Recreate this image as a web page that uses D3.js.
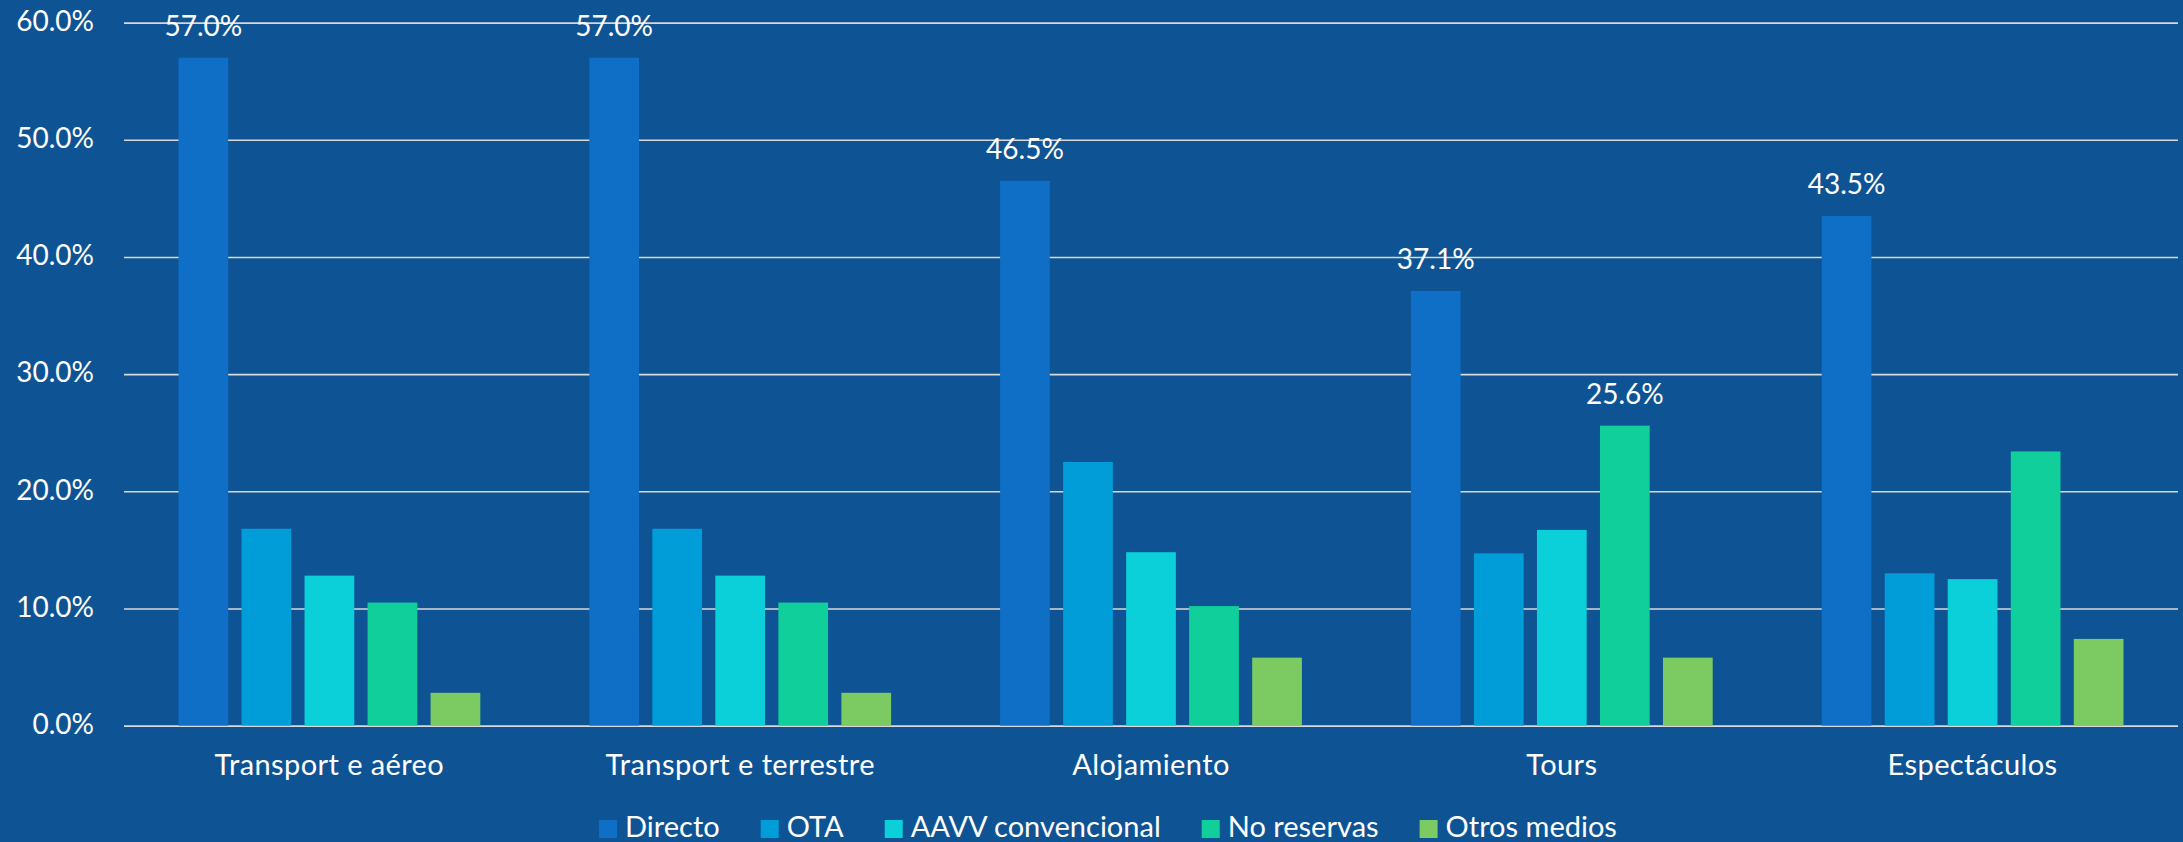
<!DOCTYPE html>
<html>
<head>
<meta charset="utf-8">
<script src="https://cdn.jsdelivr.net/npm/d3@7/dist/d3.min.js"></script>
<style>
  html, body { margin: 0; padding: 0; background: #0E5394; }
  svg { display: block; }
  text { font-family: Lato, "Open Sans", sans-serif; fill: #FFFFFF; }
</style>
</head>
<body>
<svg id="chart" width="2183" height="842"></svg>
<script>
// Booking channel share by type of tourist service (%)
const categories = ["Transporte aéreo", "Transporte terrestre", "Alojamiento", "Tours", "Espectáculos"];
const seriesNames = ["Directo", "OTA", "AAVV convencional", "No reservas", "Otros medios"];
const directo    = [57.0, 57.0, 46.5, 37.1, 43.5];
const ota        = [16.8, 16.8, 22.5, 14.7, 13.0];
const aavv       = [12.8, 12.8, 14.8, 16.7, 12.5];
const noReservas = [10.5, 10.5, 10.2, 25.6, 23.4];
const otrosMedios = [2.8, 2.8, 5.8, 5.8, 7.4];
const yTicks = [0, 10, 20, 30, 40, 50, 60];
// bars that carry a value label: [series, category]
const labelledBars = [
  ["Directo", "Transporte aéreo"], ["Directo", "Transporte terrestre"],
  ["Directo", "Alojamiento"], ["Directo", "Tours"], ["Directo", "Espectáculos"],
  ["No reservas", "Tours"]
];
const colors = ["#0F6FC6", "#009DD9", "#0BD0D9", "#10CF9B", "#7CCA62"];

const seriesValues = [directo, ota, aavv, noReservas, otrosMedios];
const rows = [];
categories.forEach((c, ci) => {
  seriesNames.forEach((s, si) => {
    rows.push({ category: c, series: s, value: seriesValues[si][ci] });
  });
});

const svg = d3.select("#chart");
const plot = { left: 124, right: 2178, top: 22.6, bottom: 725.6 };

const x0 = d3.scaleBand().domain(categories).range([plot.left, plot.right]).paddingInner(0).paddingOuter(0);
const inner = [54.5, x0.bandwidth() - 54.5];
const x1 = d3.scaleBand().domain(seriesNames).range(inner).paddingInner(0.211).paddingOuter(0);
const y = d3.scaleLinear().domain([0, 60]).range([plot.bottom, plot.top]);
const color = d3.scaleOrdinal().domain(seriesNames).range(colors);
const fmt = v => d3.format(".1f")(v) + "%";

// horizontal gridlines and value axis labels
const yAxis = d3.axisLeft(y).tickValues(yTicks).tickSize(-(plot.right - plot.left)).tickFormat(fmt);
const ga = svg.append("g").attr("transform", `translate(${plot.left},0)`).call(yAxis);
ga.select(".domain").remove();
ga.selectAll(".tick line").attr("stroke", "#D9D9D9").attr("stroke-width", 1.6);
ga.selectAll(".tick text")
  .attr("fill", "#FFFFFF")
  .style("font-size", "28px")
  .attr("dy", "0.28em")
  .attr("x", 94 - plot.left);

// bars
svg.append("g").selectAll("rect").data(rows).join("rect")
  .attr("x", d => x0(d.category) + x1(d.series))
  .attr("width", x1.bandwidth())
  .attr("y", d => y(d.value))
  .attr("height", d => y(0) - y(d.value))
  .attr("fill", d => color(d.series));

// value labels
const labelRows = rows.filter(d => labelledBars.some(([s, c]) => s === d.series && c === d.category));
svg.append("g").selectAll("text").data(labelRows).join("text")
  .attr("x", d => x0(d.category) + x1(d.series) + x1.bandwidth() / 2)
  .attr("y", d => y(d.value) - 22)
  .attr("text-anchor", "middle")
  .style("font-size", "28px")
  .text(d => fmt(d.value));

// category axis labels
const xAxis = d3.axisBottom(x0).tickSize(0).tickPadding(0);
const gx = svg.append("g").attr("transform", `translate(0,${plot.bottom})`).call(xAxis);
gx.select(".domain").remove();
gx.selectAll(".tick text")
  .attr("fill", "#FFFFFF")
  .style("font-size", "29px")
  .style("letter-spacing", "0.4px")
  .attr("dy", 0)
  .attr("y", 49)
  .each(function (d) {
    // the label layout leaves a wider gap inside "Transporte"
    const m = /^(Transport)(e.*)$/.exec(d);
    if (!m) return;
    const t = d3.select(this).text(null);
    t.append("tspan").text(m[1]);
    t.append("tspan").attr("dx", 8).text(m[2]);
  });

// legend
const legend = svg.append("g");
const items = legend.selectAll("g").data(seriesNames).join("g");
items.append("rect").attr("width", 18).attr("height", 18).attr("y", -17).attr("fill", d => color(d));
items.append("text").attr("x", 26).attr("y", 0).style("font-size", "29px").text(d => d);
let cx = 0;
const widths = [];
items.each(function () { widths.push(26 + this.querySelector("text").getComputedTextLength()); });
items.attr("transform", (d, i) => {
  const t = `translate(${cx},0)`;
  cx += widths[i] + 41;
  return t;
});
const totalW = cx - 41;
legend.attr("transform", `translate(${1108 - totalW / 2},837)`);
</script>
</body>
</html>
